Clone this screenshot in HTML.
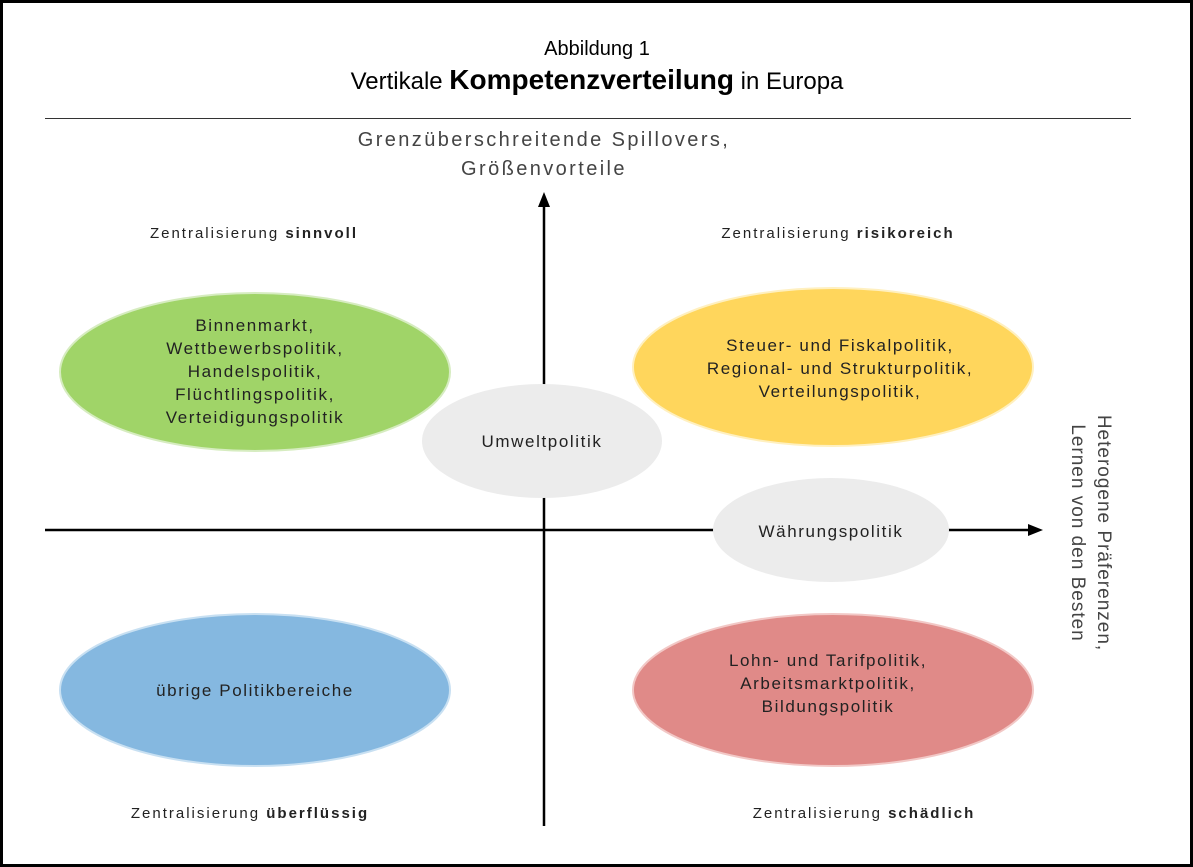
<!DOCTYPE html>
<html><head><meta charset="utf-8"><style>
html,body{margin:0;padding:0;background:#fff;}
svg{display:block;}
text{font-family:"Liberation Sans",sans-serif;fill:#222;}
</style></head><body>
<svg width="1193" height="867" viewBox="0 0 1193 867" xmlns="http://www.w3.org/2000/svg">
<rect x="1.5" y="1.5" width="1190" height="864" fill="#fff" stroke="#000" stroke-width="3"/>
<text x="597" y="55" text-anchor="middle" font-size="20" style="fill:#000">Abbildung 1</text>
<text x="597" y="89" text-anchor="middle" font-size="24" style="fill:#000">Vertikale <tspan font-weight="bold" font-size="28">Kompetenzverteilung</tspan> in Europa</text>
<line x1="45" y1="118.5" x2="1131" y2="118.5" stroke="#333" stroke-width="1"/>
<g letter-spacing="2.4">
<text x="544" y="146" text-anchor="middle" font-size="20" style="fill:#444">Grenzüberschreitende Spillovers,</text>
<text x="544" y="175" text-anchor="middle" font-size="20" style="fill:#444">Größenvorteile</text>
</g>
<g font-size="15" letter-spacing="2" text-anchor="middle">
<text x="254" y="238">Zentralisierung  <tspan font-weight="bold">sinnvoll</tspan></text>
<text x="838" y="238">Zentralisierung <tspan font-weight="bold">risikoreich</tspan></text>
<text x="250" y="818">Zentralisierung <tspan font-weight="bold">überflüssig</tspan></text>
<text x="864" y="818">Zentralisierung <tspan font-weight="bold">schädlich</tspan></text>
</g>
<line x1="544" y1="205" x2="544" y2="826" stroke="#000" stroke-width="2.5"/>
<polygon points="544,192 538,207 550,207" fill="#000"/>
<line x1="45" y1="530" x2="1030" y2="530" stroke="#000" stroke-width="2.5"/>
<polygon points="1043,530 1028,524 1028,536" fill="#000"/>
<ellipse cx="255" cy="372" rx="195" ry="79" fill="#a0d468" stroke="#d6ecc0" stroke-width="2"/>
<ellipse cx="833" cy="367" rx="200" ry="79" fill="#ffd65c" stroke="#fff0c0" stroke-width="2"/>
<ellipse cx="542" cy="441" rx="120" ry="57" fill="#ececec"/>
<ellipse cx="831" cy="530" rx="118" ry="52" fill="#ececec"/>
<ellipse cx="255" cy="690" rx="195" ry="76" fill="#85b8e0" stroke="#c8e0f2" stroke-width="2"/>
<ellipse cx="833" cy="690" rx="200" ry="76" fill="#e08a88" stroke="#f2c8c6" stroke-width="2"/>
<g font-size="17" letter-spacing="1.6" text-anchor="middle">
<text x="255" y="331">Binnenmarkt,</text>
<text x="255" y="354">Wettbewerbspolitik,</text>
<text x="255" y="377">Handelspolitik,</text>
<text x="255" y="400">Flüchtlingspolitik,</text>
<text x="255" y="423">Verteidigungspolitik</text>
<text x="840" y="351">Steuer- und Fiskalpolitik,</text>
<text x="840" y="374">Regional- und Strukturpolitik,</text>
<text x="840" y="397">Verteilungspolitik,</text>
<text x="542" y="447">Umweltpolitik</text>
<text x="831" y="537">Währungspolitik</text>
<text x="255" y="696">übrige Politikbereiche</text>
<text x="828" y="666">Lohn- und Tarifpolitik,</text>
<text x="828" y="689">Arbeitsmarktpolitik,</text>
<text x="828" y="712">Bildungspolitik</text>
</g>
<g transform="translate(1086,533) rotate(90)" letter-spacing="1">
<text x="0" y="-12" text-anchor="middle" font-size="19" style="fill:#444">Heterogene Präferenzen,</text>
<text x="0" y="14" text-anchor="middle" font-size="19" style="fill:#444">Lernen von den Besten</text>
</g>
</svg>
</body></html>
